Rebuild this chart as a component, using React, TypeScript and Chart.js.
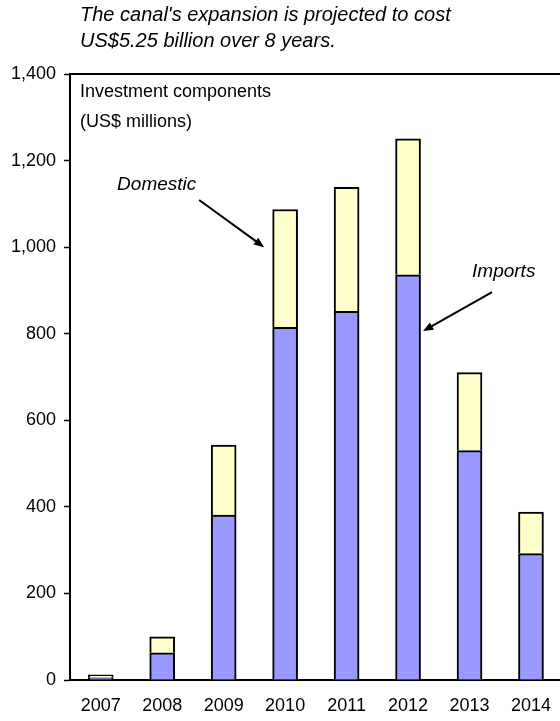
import React, { useEffect, useRef } from "react";
import { Chart, registerables } from "chart.js";
Chart.register(...registerables);

const years = ["2007", "2008", "2009", "2010", "2011", "2012", "2013", "2014"];
const imports = [5, 63, 381, 815, 852, 936, 530, 292];
const totals = [12, 100, 543, 1087, 1138, 1250, 710, 388];
const domestic = totals.map((t, i) => t - imports[i]);
const titleLines = ["The canal's expansion is projected to cost", "US$5.25 billion over 8 years."];
const FONT = "Arial, 'Liberation Sans'";

const arrow = (ctx: CanvasRenderingContext2D, x1: number, y1: number, x2: number, y2: number) => {
  const a = Math.atan2(y2 - y1, x2 - x1), L = 11;
  ctx.beginPath(); ctx.moveTo(x1, y1); ctx.lineTo(x2 - 6 * Math.cos(a), y2 - 6 * Math.sin(a)); ctx.stroke();
  ctx.beginPath(); ctx.moveTo(x2, y2);
  ctx.lineTo(x2 - L * Math.cos(a - 0.38), y2 - L * Math.sin(a - 0.38));
  ctx.lineTo(x2 - L * Math.cos(a + 0.38), y2 - L * Math.sin(a + 0.38));
  ctx.closePath(); ctx.fill();
};

const deco = {
  id: "deco",
  afterDraw(chart: any) {
    const { ctx, chartArea: ca, scales } = chart;
    const x = scales.x, y = scales.y;
    ctx.save();
    ctx.fillStyle = "#000"; ctx.strokeStyle = "#000";
    ctx.font = `italic 20px ${FONT}`;
    ctx.textBaseline = "alphabetic"; ctx.textAlign = "left";
    ctx.fillText(titleLines[0], 80, 21);
    ctx.fillText(titleLines[1], 80, 47);
    ctx.lineWidth = 2;
    ctx.beginPath(); ctx.moveTo(ca.left, ca.top); ctx.lineTo(ca.right, ca.top); ctx.lineTo(ca.right, ca.bottom); ctx.stroke();
    ctx.font = `18px ${FONT}`;
    ctx.fillText("Investment components", ca.left + 10, ca.top + 23);
    ctx.fillText("(US$ millions)", ca.left + 10, ca.top + 53);
    ctx.font = `italic 19px ${FONT}`;
    const x10 = x.getPixelForValue(3), x12 = x.getPixelForValue(5);
    ctx.fillText("Domestic", x10 - 168, y.getPixelForValue(1132));
    ctx.fillText("Imports", x12 + 64, y.getPixelForValue(931));
    ctx.lineWidth = 2;
    arrow(ctx, x10 - 86, y.getPixelForValue(1109), x10 - 21, y.getPixelForValue(1000));
    arrow(ctx, x12 + 84, y.getPixelForValue(896), x12 + 15, y.getPixelForValue(806));
    ctx.restore();
  },
};

export default function App() {
  const ref = useRef<HTMLCanvasElement>(null);
  useEffect(() => {
    const chart = new Chart(ref.current!, {
      type: "bar",
      data: {
        labels: years,
        datasets: [
          { label: "Imports", data: imports, backgroundColor: "#9999ff", borderColor: "#000", borderWidth: 2, barThickness: 25 },
          { label: "Domestic", data: domestic, backgroundColor: "#ffffcc", borderColor: "#000", borderWidth: 2, barThickness: 25 },
        ],
      },
      options: {
        animation: false,
        responsive: false,
        devicePixelRatio: 1,
        layout: { padding: { top: 74, left: 0, right: 0, bottom: 0 } },
        plugins: { legend: { display: false }, tooltip: { enabled: false }, title: { display: false } },
        scales: {
          x: {
            stacked: true,
            grid: { display: false, drawTicks: false },
            border: { display: true, color: "#000", width: 2 },
            ticks: { color: "#000", font: { family: FONT, size: 18 }, padding: 15, maxRotation: 0 },
            afterFit: (s: any) => { s.height = 41; },
          },
          y: {
            stacked: true, min: 0, max: 1400,
            grid: { drawOnChartArea: false, drawTicks: true, tickLength: 6, color: "#000", tickWidth: 1.5 },
            border: { display: true, color: "#000", width: 2 },
            ticks: { stepSize: 200, color: "#000", font: { family: FONT, size: 18 }, padding: 8,
              callback: (v: any) => Number(v).toLocaleString("en-US") },
            afterFit: (s: any) => { s.width = 70; },
          },
        },
      },
      plugins: [deco],
    });
    return () => chart.destroy();
  }, []);
  return (
    <div style={{ position: "fixed", left: 0, top: 0, width: 560, height: 721, overflow: "hidden", background: "#fff" }}>
      <canvas ref={ref} width={566} height={721} style={{ display: "block" }} />
    </div>
  );
}
